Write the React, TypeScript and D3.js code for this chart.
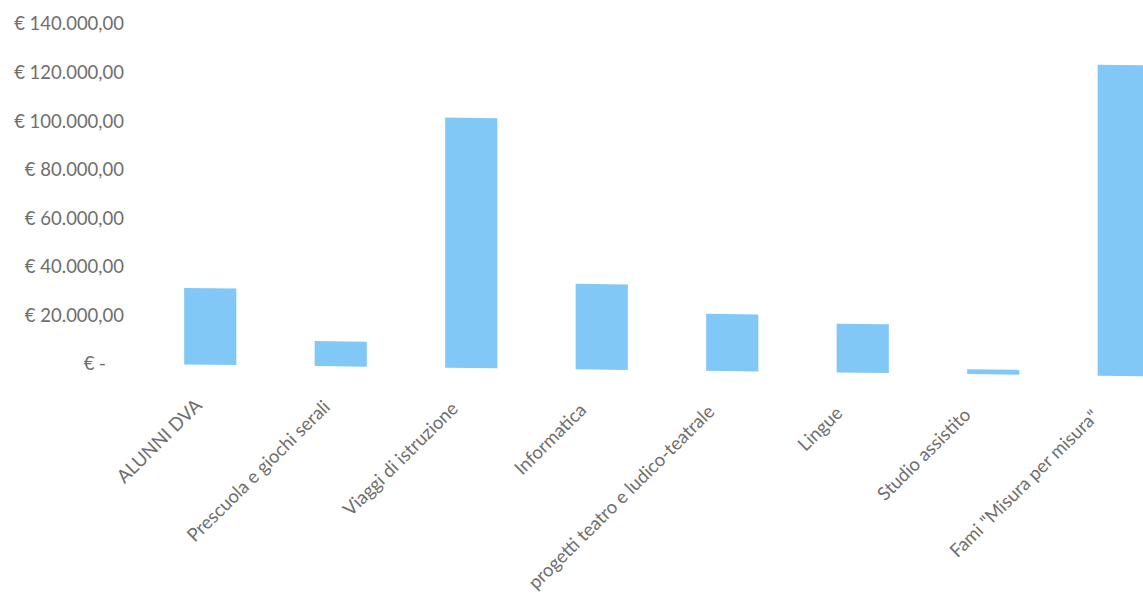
import { useEffect, useRef } from "react";
import * as d3 from "d3";

const categories = [
  "ALUNNI DVA",
  "Prescuola e giochi serali",
  "Viaggi di istruzione",
  "Informatica",
  "progetti teatro e ludico-teatrale",
  "Lingue",
  "Studio assistito",
  'Fami "Misura per misura"',
];
const values = [31500, 10300, 103000, 35200, 23500, 20100, 2000, 128000];
const yTicks = [0, 20000, 40000, 60000, 80000, 100000, 120000, 140000];

const width = 1143;
const height = 605;

const it = d3.formatLocale({ decimal: ",", thousands: ".", grouping: [3], currency: ["€ ", ""] });
const fmt = it.format(",.2f");

export default function App() {
  const svgRef = useRef<SVGSVGElement | null>(null);

  useEffect(() => {
    if (!svgRef.current) return;
    const svg = d3.select(svgRef.current);
    svg.selectAll("*").remove();

    const x = d3.scaleBand<string>().domain(categories).range([145, 1189]).paddingInner(0.6).paddingOuter(0.3);
    // label ends sit a bit tighter than the bars in the photo
    const xLabel = d3.scalePoint<string>().domain(categories).range([203, 1100]);
    const y = d3.scaleLinear().domain([0, 140000]).range([364, 24]);

    const font = "Lato, 'Open Sans', sans-serif";

    // y labels only, no axis line and no gridlines
    svg
      .append("g")
      .selectAll("text")
      .data(yTicks)
      .enter()
      .append("text")
      .attr("x", d => (d === 0 ? 106 : 124))
      .attr("y", d => y(d))
      .attr("dy", "0.35em")
      .attr("text-anchor", "end")
      .attr("font-family", font)
      .attr("font-size", 18.5)
      .attr("fill", "#6e6e6e")
      .text(d => (d === 0 ? "€ -" : "€ " + fmt(d)));

    // the photo is slightly tilted: baseline drops to the right
    const plot = svg.append("g").attr("transform", "translate(145,0) skewY(0.7) translate(-145,0)");

    plot
      .selectAll("rect")
      .data(values)
      .enter()
      .append("rect")
      .attr("x", (_d, i) => x(categories[i])!)
      .attr("width", x.bandwidth())
      .attr("y", d => y(d))
      .attr("height", d => y(0) - y(d))
      .attr("fill", "#82c8f6");

    plot
      .append("g")
      .selectAll("text")
      .data(categories)
      .enter()
      .append("text")
      .attr("transform", d => `translate(${xLabel(d)},${y(0) + 42}) rotate(-45)`)
      .attr("text-anchor", "end")
      .attr("font-family", font)
      .attr("font-size", 18.5)
      .attr("fill", "#6e6e6e")
      .text(d => d);
  }, []);

  return (
    <svg
      ref={svgRef}
      width={width}
      height={height}
      style={{ position: "absolute", left: 0, top: 0, background: "#fff" }}
    />
  );
}
